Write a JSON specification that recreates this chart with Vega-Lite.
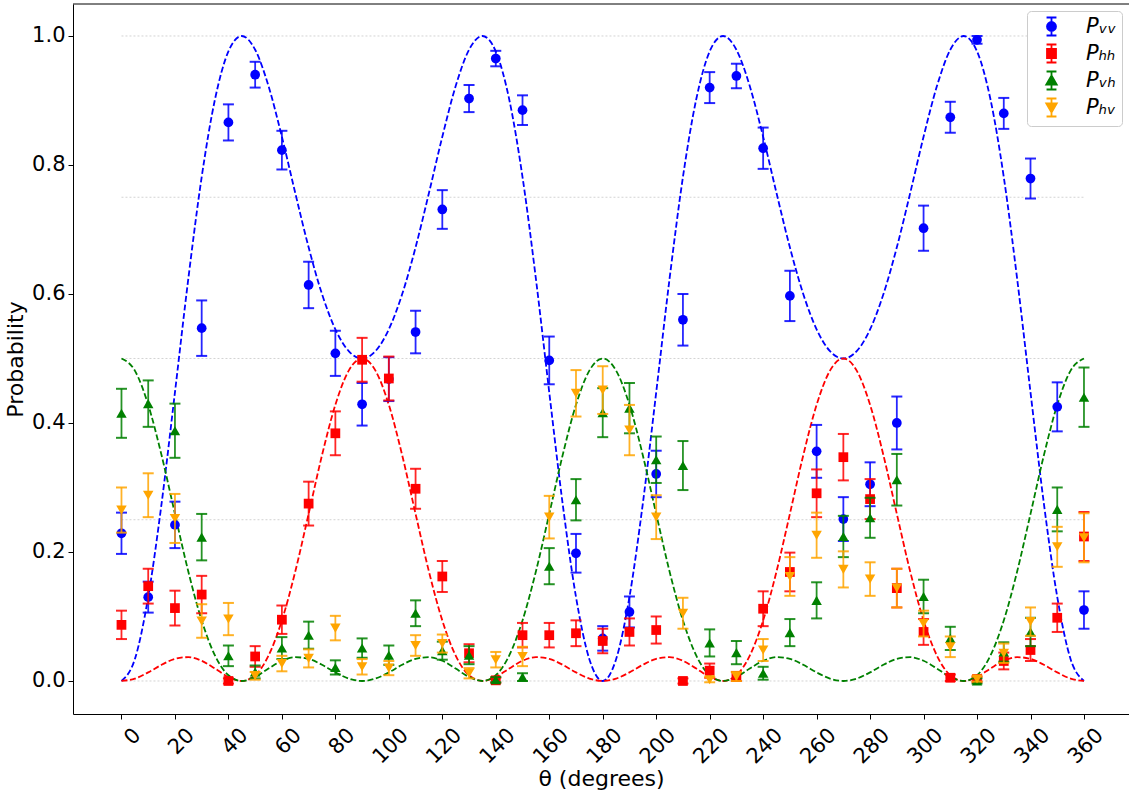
{
  "$schema": "https://vega.github.io/schema/vega-lite/v6.json",
  "autosize": {"type": "none"},
  "width": 1056,
  "height": 710,
  "padding": {"left": 73, "top": 4, "right": 0, "bottom": 80},
  "background": "white",
  "resolve": {"axis": {"x": "independent", "y": "independent"}},
  "config": {
    "font": "DejaVu Sans",
    "view": {"stroke": null},
    "axis": {"grid": false, "labelFont": "DejaVu Sans", "labelFontSize": 21, "labelColor": "black", "titleFont": "DejaVu Sans", "titleFontSize": 22, "titleFontWeight": "normal", "titleColor": "black", "tickColor": "black", "domainColor": "black", "tickSize": 5, "tickWidth": 1, "domainWidth": 1},
    "legend": {"orient": "top-right", "offset": 7, "padding": 5, "fillColor": "white", "strokeColor": "#cccccc", "cornerRadius": 4, "labelFont": "DejaVu Sans", "labelFontSize": 21, "labelFontStyle": "italic", "labelColor": "black", "symbolSize": 324, "rowPadding": 0, "symbolOffset": 9, "labelOffset": 24, "symbolStrokeWidth": 1.8, "symbolOpacity": 1}
  },
  "datasets": {
    "grid": [{"g": 0}, {"g": 0.25}, {"g": 0.5}, {"g": 0.75}, {"g": 1.0}],
    "th": [
      {"t": 0, "VV": 0, "HH": 0, "VH": 0.5},
      {"t": 5, "VV": 0.0338, "HH": 0.0037, "VH": 0.4812},
      {"t": 10, "VV": 0.1303, "HH": 0.0133, "VH": 0.4282},
      {"t": 15, "VV": 0.2751, "HH": 0.0251, "VH": 0.3499},
      {"t": 20, "VV": 0.4475, "HH": 0.0343, "VH": 0.2591},
      {"t": 25, "VV": 0.6237, "HH": 0.0369, "VH": 0.1697},
      {"t": 30, "VV": 0.7813, "HH": 0.0313, "VH": 0.0938},
      {"t": 35, "VV": 0.9023, "HH": 0.0192, "VH": 0.0393},
      {"t": 40, "VV": 0.9761, "HH": 0.0062, "VH": 0.0089},
      {"t": 45, "VV": 1.0, "HH": 0, "VH": 0},
      {"t": 50, "VV": 0.9787, "HH": 0.0089, "VH": 0.0062},
      {"t": 55, "VV": 0.9223, "HH": 0.0393, "VH": 0.0192},
      {"t": 60, "VV": 0.8438, "HH": 0.0938, "VH": 0.0313},
      {"t": 65, "VV": 0.7565, "HH": 0.1697, "VH": 0.0369},
      {"t": 70, "VV": 0.6723, "HH": 0.2591, "VH": 0.0343},
      {"t": 75, "VV": 0.5999, "HH": 0.3499, "VH": 0.0251},
      {"t": 80, "VV": 0.5452, "HH": 0.4282, "VH": 0.0133},
      {"t": 85, "VV": 0.5114, "HH": 0.4812, "VH": 0.0037},
      {"t": 90, "VV": 0.5, "HH": 0.5, "VH": 0},
      {"t": 95, "VV": 0.5114, "HH": 0.4812, "VH": 0.0037},
      {"t": 100, "VV": 0.5452, "HH": 0.4282, "VH": 0.0133},
      {"t": 105, "VV": 0.5999, "HH": 0.3499, "VH": 0.0251},
      {"t": 110, "VV": 0.6723, "HH": 0.2591, "VH": 0.0343},
      {"t": 115, "VV": 0.7565, "HH": 0.1697, "VH": 0.0369},
      {"t": 120, "VV": 0.8438, "HH": 0.0938, "VH": 0.0313},
      {"t": 125, "VV": 0.9223, "HH": 0.0393, "VH": 0.0192},
      {"t": 130, "VV": 0.9787, "HH": 0.0089, "VH": 0.0062},
      {"t": 135, "VV": 1.0, "HH": 0, "VH": 0},
      {"t": 140, "VV": 0.9761, "HH": 0.0062, "VH": 0.0089},
      {"t": 145, "VV": 0.9023, "HH": 0.0192, "VH": 0.0393},
      {"t": 150, "VV": 0.7813, "HH": 0.0313, "VH": 0.0938},
      {"t": 155, "VV": 0.6237, "HH": 0.0369, "VH": 0.1697},
      {"t": 160, "VV": 0.4475, "HH": 0.0343, "VH": 0.2591},
      {"t": 165, "VV": 0.2751, "HH": 0.0251, "VH": 0.3499},
      {"t": 170, "VV": 0.1303, "HH": 0.0133, "VH": 0.4282},
      {"t": 175, "VV": 0.0338, "HH": 0.0037, "VH": 0.4812},
      {"t": 180, "VV": 0, "HH": 0, "VH": 0.5},
      {"t": 185, "VV": 0.0338, "HH": 0.0037, "VH": 0.4812},
      {"t": 190, "VV": 0.1303, "HH": 0.0133, "VH": 0.4282},
      {"t": 195, "VV": 0.2751, "HH": 0.0251, "VH": 0.3499},
      {"t": 200, "VV": 0.4475, "HH": 0.0343, "VH": 0.2591},
      {"t": 205, "VV": 0.6237, "HH": 0.0369, "VH": 0.1697},
      {"t": 210, "VV": 0.7813, "HH": 0.0313, "VH": 0.0938},
      {"t": 215, "VV": 0.9023, "HH": 0.0192, "VH": 0.0393},
      {"t": 220, "VV": 0.9761, "HH": 0.0062, "VH": 0.0089},
      {"t": 225, "VV": 1.0, "HH": 0, "VH": 0},
      {"t": 230, "VV": 0.9787, "HH": 0.0089, "VH": 0.0062},
      {"t": 235, "VV": 0.9223, "HH": 0.0393, "VH": 0.0192},
      {"t": 240, "VV": 0.8438, "HH": 0.0938, "VH": 0.0313},
      {"t": 245, "VV": 0.7565, "HH": 0.1697, "VH": 0.0369},
      {"t": 250, "VV": 0.6723, "HH": 0.2591, "VH": 0.0343},
      {"t": 255, "VV": 0.5999, "HH": 0.3499, "VH": 0.0251},
      {"t": 260, "VV": 0.5452, "HH": 0.4282, "VH": 0.0133},
      {"t": 265, "VV": 0.5114, "HH": 0.4812, "VH": 0.0037},
      {"t": 270, "VV": 0.5, "HH": 0.5, "VH": 0},
      {"t": 275, "VV": 0.5114, "HH": 0.4812, "VH": 0.0037},
      {"t": 280, "VV": 0.5452, "HH": 0.4282, "VH": 0.0133},
      {"t": 285, "VV": 0.5999, "HH": 0.3499, "VH": 0.0251},
      {"t": 290, "VV": 0.6723, "HH": 0.2591, "VH": 0.0343},
      {"t": 295, "VV": 0.7565, "HH": 0.1697, "VH": 0.0369},
      {"t": 300, "VV": 0.8438, "HH": 0.0938, "VH": 0.0313},
      {"t": 305, "VV": 0.9223, "HH": 0.0393, "VH": 0.0192},
      {"t": 310, "VV": 0.9787, "HH": 0.0089, "VH": 0.0062},
      {"t": 315, "VV": 1.0, "HH": 0, "VH": 0},
      {"t": 320, "VV": 0.9761, "HH": 0.0062, "VH": 0.0089},
      {"t": 325, "VV": 0.9023, "HH": 0.0192, "VH": 0.0393},
      {"t": 330, "VV": 0.7813, "HH": 0.0313, "VH": 0.0938},
      {"t": 335, "VV": 0.6237, "HH": 0.0369, "VH": 0.1697},
      {"t": 340, "VV": 0.4475, "HH": 0.0343, "VH": 0.2591},
      {"t": 345, "VV": 0.2751, "HH": 0.0251, "VH": 0.3499},
      {"t": 350, "VV": 0.1303, "HH": 0.0133, "VH": 0.4282},
      {"t": 355, "VV": 0.0338, "HH": 0.0037, "VH": 0.4812},
      {"t": 360, "VV": 0, "HH": 0, "VH": 0.5}
    ],
    "pts": [
      {"t": 0, "s": "VV", "p": 0.229, "e": 0.032},
      {"t": 10, "s": "VV", "p": 0.130, "e": 0.024},
      {"t": 20, "s": "VV", "p": 0.242, "e": 0.036},
      {"t": 30, "s": "VV", "p": 0.547, "e": 0.043},
      {"t": 40, "s": "VV", "p": 0.866, "e": 0.028},
      {"t": 50, "s": "VV", "p": 0.940, "e": 0.020},
      {"t": 60, "s": "VV", "p": 0.823, "e": 0.030},
      {"t": 70, "s": "VV", "p": 0.614, "e": 0.036},
      {"t": 80, "s": "VV", "p": 0.508, "e": 0.035},
      {"t": 90, "s": "VV", "p": 0.429, "e": 0.033},
      {"t": 100, "s": "VV", "p": 0.468, "e": 0.034},
      {"t": 110, "s": "VV", "p": 0.541, "e": 0.033},
      {"t": 120, "s": "VV", "p": 0.731, "e": 0.030},
      {"t": 130, "s": "VV", "p": 0.903, "e": 0.021},
      {"t": 140, "s": "VV", "p": 0.965, "e": 0.012},
      {"t": 150, "s": "VV", "p": 0.885, "e": 0.023},
      {"t": 160, "s": "VV", "p": 0.497, "e": 0.037},
      {"t": 170, "s": "VV", "p": 0.198, "e": 0.030},
      {"t": 180, "s": "VV", "p": 0.066, "e": 0.019},
      {"t": 190, "s": "VV", "p": 0.107, "e": 0.024},
      {"t": 200, "s": "VV", "p": 0.321, "e": 0.036},
      {"t": 210, "s": "VV", "p": 0.560, "e": 0.040},
      {"t": 220, "s": "VV", "p": 0.920, "e": 0.024},
      {"t": 230, "s": "VV", "p": 0.938, "e": 0.019},
      {"t": 240, "s": "VV", "p": 0.826, "e": 0.032},
      {"t": 250, "s": "VV", "p": 0.597, "e": 0.039},
      {"t": 260, "s": "VV", "p": 0.356, "e": 0.041},
      {"t": 270, "s": "VV", "p": 0.251, "e": 0.034},
      {"t": 280, "s": "VV", "p": 0.305, "e": 0.034},
      {"t": 290, "s": "VV", "p": 0.400, "e": 0.041},
      {"t": 300, "s": "VV", "p": 0.702, "e": 0.035},
      {"t": 310, "s": "VV", "p": 0.874, "e": 0.024},
      {"t": 320, "s": "VV", "p": 0.994, "e": 0.006},
      {"t": 330, "s": "VV", "p": 0.880, "e": 0.024},
      {"t": 340, "s": "VV", "p": 0.779, "e": 0.031},
      {"t": 350, "s": "VV", "p": 0.425, "e": 0.038},
      {"t": 360, "s": "VV", "p": 0.110, "e": 0.029},
      {"t": 0, "s": "HH", "p": 0.087, "e": 0.022},
      {"t": 10, "s": "HH", "p": 0.147, "e": 0.027},
      {"t": 20, "s": "HH", "p": 0.113, "e": 0.027},
      {"t": 30, "s": "HH", "p": 0.134, "e": 0.029},
      {"t": 40, "s": "HH", "p": 0.000, "e": 0.004},
      {"t": 50, "s": "HH", "p": 0.038, "e": 0.016},
      {"t": 60, "s": "HH", "p": 0.095, "e": 0.022},
      {"t": 70, "s": "HH", "p": 0.275, "e": 0.034},
      {"t": 80, "s": "HH", "p": 0.384, "e": 0.034},
      {"t": 90, "s": "HH", "p": 0.498, "e": 0.034},
      {"t": 100, "s": "HH", "p": 0.469, "e": 0.034},
      {"t": 110, "s": "HH", "p": 0.298, "e": 0.031},
      {"t": 120, "s": "HH", "p": 0.162, "e": 0.024},
      {"t": 130, "s": "HH", "p": 0.043, "e": 0.014},
      {"t": 140, "s": "HH", "p": 0.001, "e": 0.004},
      {"t": 150, "s": "HH", "p": 0.071, "e": 0.019},
      {"t": 160, "s": "HH", "p": 0.071, "e": 0.019},
      {"t": 170, "s": "HH", "p": 0.074, "e": 0.020},
      {"t": 180, "s": "HH", "p": 0.062, "e": 0.019},
      {"t": 190, "s": "HH", "p": 0.076, "e": 0.021},
      {"t": 200, "s": "HH", "p": 0.079, "e": 0.021},
      {"t": 210, "s": "HH", "p": 0.000, "e": 0.004},
      {"t": 220, "s": "HH", "p": 0.016, "e": 0.011},
      {"t": 230, "s": "HH", "p": 0.007, "e": 0.007},
      {"t": 240, "s": "HH", "p": 0.112, "e": 0.027},
      {"t": 250, "s": "HH", "p": 0.169, "e": 0.030},
      {"t": 260, "s": "HH", "p": 0.291, "e": 0.037},
      {"t": 270, "s": "HH", "p": 0.347, "e": 0.036},
      {"t": 280, "s": "HH", "p": 0.282, "e": 0.031},
      {"t": 290, "s": "HH", "p": 0.144, "e": 0.030},
      {"t": 300, "s": "HH", "p": 0.076, "e": 0.020},
      {"t": 310, "s": "HH", "p": 0.005, "e": 0.005},
      {"t": 320, "s": "HH", "p": 0.003, "e": 0.004},
      {"t": 330, "s": "HH", "p": 0.031, "e": 0.013},
      {"t": 340, "s": "HH", "p": 0.048, "e": 0.017},
      {"t": 350, "s": "HH", "p": 0.098, "e": 0.022},
      {"t": 360, "s": "HH", "p": 0.224, "e": 0.038},
      {"t": 0, "s": "VH", "p": 0.415, "e": 0.038},
      {"t": 10, "s": "VH", "p": 0.430, "e": 0.036},
      {"t": 20, "s": "VH", "p": 0.388, "e": 0.042},
      {"t": 30, "s": "VH", "p": 0.223, "e": 0.036},
      {"t": 40, "s": "VH", "p": 0.039, "e": 0.016},
      {"t": 50, "s": "VH", "p": 0.014, "e": 0.010},
      {"t": 60, "s": "VH", "p": 0.051, "e": 0.017},
      {"t": 70, "s": "VH", "p": 0.071, "e": 0.021},
      {"t": 80, "s": "VH", "p": 0.021, "e": 0.011},
      {"t": 90, "s": "VH", "p": 0.051, "e": 0.015},
      {"t": 100, "s": "VH", "p": 0.040, "e": 0.015},
      {"t": 110, "s": "VH", "p": 0.105, "e": 0.020},
      {"t": 120, "s": "VH", "p": 0.047, "e": 0.014},
      {"t": 130, "s": "VH", "p": 0.040, "e": 0.014},
      {"t": 140, "s": "VH", "p": 0.002, "e": 0.004},
      {"t": 150, "s": "VH", "p": 0.006, "e": 0.006},
      {"t": 160, "s": "VH", "p": 0.178, "e": 0.028},
      {"t": 170, "s": "VH", "p": 0.281, "e": 0.032},
      {"t": 180, "s": "VH", "p": 0.416, "e": 0.038},
      {"t": 190, "s": "VH", "p": 0.423, "e": 0.039},
      {"t": 200, "s": "VH", "p": 0.343, "e": 0.036},
      {"t": 210, "s": "VH", "p": 0.334, "e": 0.038},
      {"t": 220, "s": "VH", "p": 0.059, "e": 0.021},
      {"t": 230, "s": "VH", "p": 0.044, "e": 0.018},
      {"t": 240, "s": "VH", "p": 0.012, "e": 0.010},
      {"t": 250, "s": "VH", "p": 0.075, "e": 0.021},
      {"t": 260, "s": "VH", "p": 0.125, "e": 0.028},
      {"t": 270, "s": "VH", "p": 0.224, "e": 0.032},
      {"t": 280, "s": "VH", "p": 0.253, "e": 0.031},
      {"t": 290, "s": "VH", "p": 0.312, "e": 0.040},
      {"t": 300, "s": "VH", "p": 0.131, "e": 0.026},
      {"t": 310, "s": "VH", "p": 0.066, "e": 0.018},
      {"t": 320, "s": "VH", "p": 0.000, "e": 0.004},
      {"t": 330, "s": "VH", "p": 0.045, "e": 0.015},
      {"t": 340, "s": "VH", "p": 0.076, "e": 0.022},
      {"t": 350, "s": "VH", "p": 0.266, "e": 0.034},
      {"t": 360, "s": "VH", "p": 0.440, "e": 0.046},
      {"t": 0, "s": "HV", "p": 0.265, "e": 0.035},
      {"t": 10, "s": "HV", "p": 0.288, "e": 0.034},
      {"t": 20, "s": "HV", "p": 0.252, "e": 0.038},
      {"t": 30, "s": "HV", "p": 0.093, "e": 0.026},
      {"t": 40, "s": "HV", "p": 0.096, "e": 0.025},
      {"t": 50, "s": "HV", "p": 0.008, "e": 0.006},
      {"t": 60, "s": "HV", "p": 0.027, "e": 0.012},
      {"t": 70, "s": "HV", "p": 0.035, "e": 0.014},
      {"t": 80, "s": "HV", "p": 0.082, "e": 0.019},
      {"t": 90, "s": "HV", "p": 0.022, "e": 0.012},
      {"t": 100, "s": "HV", "p": 0.020, "e": 0.011},
      {"t": 110, "s": "HV", "p": 0.055, "e": 0.016},
      {"t": 120, "s": "HV", "p": 0.058, "e": 0.014},
      {"t": 130, "s": "HV", "p": 0.012, "e": 0.008},
      {"t": 140, "s": "HV", "p": 0.033, "e": 0.012},
      {"t": 150, "s": "HV", "p": 0.038, "e": 0.015},
      {"t": 160, "s": "HV", "p": 0.254, "e": 0.033},
      {"t": 170, "s": "HV", "p": 0.446, "e": 0.036},
      {"t": 180, "s": "HV", "p": 0.451, "e": 0.037},
      {"t": 190, "s": "HV", "p": 0.389, "e": 0.039},
      {"t": 200, "s": "HV", "p": 0.254, "e": 0.034},
      {"t": 210, "s": "HV", "p": 0.105, "e": 0.024},
      {"t": 220, "s": "HV", "p": 0.002, "e": 0.004},
      {"t": 230, "s": "HV", "p": 0.007, "e": 0.007},
      {"t": 240, "s": "HV", "p": 0.048, "e": 0.017},
      {"t": 250, "s": "HV", "p": 0.162, "e": 0.030},
      {"t": 260, "s": "HV", "p": 0.226, "e": 0.035},
      {"t": 270, "s": "HV", "p": 0.173, "e": 0.028},
      {"t": 280, "s": "HV", "p": 0.158, "e": 0.026},
      {"t": 290, "s": "HV", "p": 0.144, "e": 0.030},
      {"t": 300, "s": "HV", "p": 0.089, "e": 0.020},
      {"t": 310, "s": "HV", "p": 0.053, "e": 0.016},
      {"t": 320, "s": "HV", "p": 0.003, "e": 0.004},
      {"t": 330, "s": "HV", "p": 0.043, "e": 0.015},
      {"t": 340, "s": "HV", "p": 0.092, "e": 0.022},
      {"t": 350, "s": "HV", "p": 0.208, "e": 0.031},
      {"t": 360, "s": "HV", "p": 0.222, "e": 0.038}
    ]
  },
  "layer": [
    {
      "data": {"name": "grid"},
      "mark": {"type": "rule", "color": "#d3d3d3", "strokeWidth": 1, "strokeDash": [2, 2]},
      "encoding": {
        "x": {"datum": 0, "type": "quantitative", "scale": {"domain": [-18.13, 376.84], "nice": false, "zero": false}, "axis": null},
        "x2": {"datum": 360},
        "y": {"field": "g", "type": "quantitative", "scale": {"domain": [-0.0512, 1.0496], "nice": false, "zero": false}, "axis": null}
      }
    },
    {
      "data": {"values": [{"top": 1.0496}]},
      "mark": {"type": "rule", "color": "black", "strokeWidth": 1},
      "encoding": {
        "y": {"field": "top", "type": "quantitative", "axis": null}
      }
    },
    {
      "data": {"name": "th"},
      "transform": [{"fold": ["VV", "HH", "VH"], "as": ["c", "p"]}],
      "mark": {"type": "line", "strokeDash": [6, 2.6], "strokeWidth": 1.8, "interpolate": "monotone"},
      "encoding": {
        "x": {"field": "t", "type": "quantitative", "scale": {"domain": [-18.13, 376.84], "nice": false, "zero": false},
              "axis": {"orient": "bottom", "values": [0, 20, 40, 60, 80, 100, 120, 140, 160, 180, 200, 220, 240, 260, 280, 300, 320, 340, 360], "title": "θ (degrees)", "labelAngle": -45, "labelAlign": "right", "labelBaseline": "top", "labelOffset": 8, "labelPadding": 5, "titleBaseline": "alphabetic", "titleY": 71}},
        "y": {"field": "p", "type": "quantitative", "scale": {"domain": [-0.0512, 1.0496], "nice": false, "zero": false},
              "axis": {"orient": "left", "values": [0, 0.2, 0.4, 0.6, 0.8, 1.0], "format": ".1f", "title": "Probability", "labelPadding": 3, "titlePadding": 4}},
        "stroke": {"field": "c", "type": "nominal", "scale": {"domain": ["VV", "HH", "VH"], "range": ["blue", "red", "green"]}, "legend": null},
        "order": {"field": "t", "type": "quantitative"}
      }
    },
    {
      "data": {"name": "pts"},
      "transform": [{"filter": "datum.s == 'VV'"}],
      "mark": {"type": "errorbar", "ticks": {"size": 11, "thickness": 2}, "thickness": 1.8, "color": "blue", "opacity": 0.85},
      "encoding": {
        "x": {"field": "t", "type": "quantitative", "axis": null},
        "y": {"field": "p", "type": "quantitative", "axis": null},
        "yError": {"field": "e"}
      }
    },
    {
      "data": {"name": "pts"},
      "transform": [{"filter": "datum.s == 'VV'"}],
      "mark": {"type": "point", "filled": true, "size": 95, "opacity": 1, "color": "blue", "shape": "circle"},
      "encoding": {
        "x": {"field": "t", "type": "quantitative", "axis": null},
        "y": {"field": "p", "type": "quantitative", "axis": null}
      }
    },
    {
      "data": {"name": "pts"},
      "transform": [{"filter": "datum.s == 'HH'"}],
      "mark": {"type": "errorbar", "ticks": {"size": 11, "thickness": 2}, "thickness": 1.8, "color": "red", "opacity": 0.85},
      "encoding": {
        "x": {"field": "t", "type": "quantitative", "axis": null},
        "y": {"field": "p", "type": "quantitative", "axis": null},
        "yError": {"field": "e"}
      }
    },
    {
      "data": {"name": "pts"},
      "transform": [{"filter": "datum.s == 'HH'"}],
      "mark": {"type": "point", "filled": true, "size": 95, "opacity": 1, "color": "red", "shape": "square"},
      "encoding": {
        "x": {"field": "t", "type": "quantitative", "axis": null},
        "y": {"field": "p", "type": "quantitative", "axis": null}
      }
    },
    {
      "data": {"name": "pts"},
      "transform": [{"filter": "datum.s == 'VH'"}],
      "mark": {"type": "errorbar", "ticks": {"size": 11, "thickness": 2}, "thickness": 1.8, "color": "green", "opacity": 0.85},
      "encoding": {
        "x": {"field": "t", "type": "quantitative", "axis": null},
        "y": {"field": "p", "type": "quantitative", "axis": null},
        "yError": {"field": "e"}
      }
    },
    {
      "data": {"name": "pts"},
      "transform": [{"filter": "datum.s == 'VH'"}],
      "mark": {"type": "point", "filled": true, "size": 110, "opacity": 1, "color": "green", "shape": "triangle-up"},
      "encoding": {
        "x": {"field": "t", "type": "quantitative", "axis": null},
        "y": {"field": "p", "type": "quantitative", "axis": null}
      }
    },
    {
      "data": {"name": "pts"},
      "transform": [{"filter": "datum.s == 'HV'"}],
      "mark": {"type": "errorbar", "ticks": {"size": 11, "thickness": 2}, "thickness": 1.8, "color": "orange", "opacity": 0.85},
      "encoding": {
        "x": {"field": "t", "type": "quantitative", "axis": null},
        "y": {"field": "p", "type": "quantitative", "axis": null},
        "yError": {"field": "e"}
      }
    },
    {
      "data": {"name": "pts"},
      "transform": [{"filter": "datum.s == 'HV'"}],
      "mark": {"type": "point", "filled": true, "size": 110, "opacity": 1, "color": "orange", "shape": "triangle-down"},
      "encoding": {
        "x": {"field": "t", "type": "quantitative", "axis": null},
        "y": {"field": "p", "type": "quantitative", "axis": null}
      }
    },
    {
      "data": {"name": "pts"},
      "mark": {"type": "point", "filled": true, "opacity": 0, "size": 1},
      "encoding": {
        "x": {"field": "t", "type": "quantitative", "axis": null},
        "y": {"field": "p", "type": "quantitative", "axis": null},
        "color": {"field": "s", "type": "nominal", "scale": {"domain": ["VV", "HH", "VH", "HV"], "range": ["blue", "red", "green", "orange"]},
                  "legend": {"title": null, "labelExpr": "datum.label == 'VV' ? 'Pᵥᵥ' : datum.label == 'HH' ? 'Pₕₕ' : datum.label == 'VH' ? 'Pᵥₕ' : 'Pₕᵥ'",
                             "encode": {"symbols": {"update": {"stroke": {"scale": "color", "field": "value"}, "strokeWidth": {"value": 1.8}, "opacity": {"value": 1}}}}}},
        "shape": {"field": "s", "type": "nominal", "scale": {"domain": ["VV", "HH", "VH", "HV"], "range": [
                    "M0,-1L0,1M-0.55,-1L0.55,-1M-0.55,1L0.55,1M0.5,0A0.5,0.5,0,1,1,-0.5,0A0.5,0.5,0,1,1,0.5,0Z",
                    "M0,-1L0,1M-0.55,-1L0.55,-1M-0.55,1L0.55,1M-0.5,-0.5L0.5,-0.5L0.5,0.5L-0.5,0.5Z",
                    "M0,-1L0,1M-0.55,-1L0.55,-1M-0.55,1L0.55,1M0,-0.55L0.58,0.45L-0.58,0.45Z",
                    "M0,-1L0,1M-0.55,-1L0.55,-1M-0.55,1L0.55,1M0,0.55L0.58,-0.45L-0.58,-0.45Z"]},
                  "legend": {"title": null, "labelExpr": "datum.label == 'VV' ? 'Pᵥᵥ' : datum.label == 'HH' ? 'Pₕₕ' : datum.label == 'VH' ? 'Pᵥₕ' : 'Pₕᵥ'",
                             "encode": {"symbols": {"update": {"stroke": {"scale": "color", "field": "value"}, "strokeWidth": {"value": 1.8}, "opacity": {"value": 1}}}}}}
      }
    }
  ]
}
